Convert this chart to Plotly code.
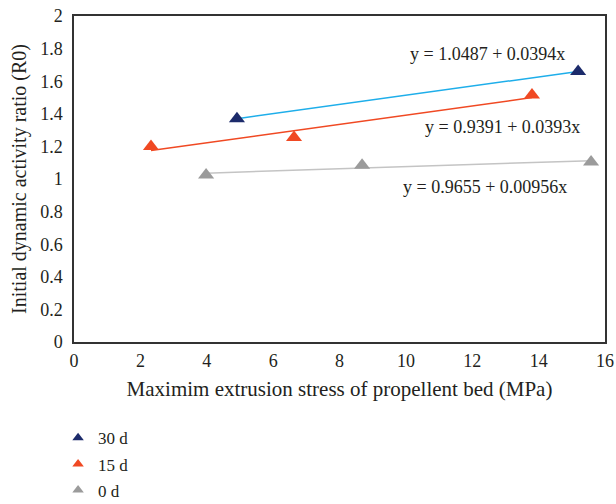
import numpy as np
import plotly.graph_objects as go

# ---- data ----
series_names = ["30 d", "15 d", "0 d"]
x_30d = [4.91, 15.19]
y_30d = [1.37, 1.66]
x_15d = [2.32, 6.63, 13.80]
y_15d = [1.20, 1.255, 1.515]
x_0d = [3.98, 8.68, 15.58]
y_0d = [1.025, 1.085, 1.105]
equations = ["y = 1.0487 + 0.0394x", "y = 0.9391 + 0.0393x", "y = 0.9655 + 0.00956x"]
eq_x = [12.47, 12.9, 12.38]
eq_y = [1.767, 1.319, 0.951]
x_ticks = list(range(0, 17, 2))
y_ticks = [round(0.2 * i, 1) for i in range(11)]

marker_colors = ["#1c2b6b", "#f04923", "#9b9b9b"]
line_colors = ["#1eaeea", "#f04923", "#c4c4c4"]
FONT = "Liberation Serif"
TXT = "#231f20"

xs = [x_30d, x_15d, x_0d]
ys = [y_30d, y_15d, y_0d]

fig = go.Figure()

# trendlines
for name, x, y, lc in zip(series_names, xs, ys, line_colors):
    k, b = np.polyfit(x, y, 1)
    xl = [min(x), max(x)]
    fig.add_trace(go.Scatter(x=xl, y=[b + k * v for v in xl], mode="lines",
                             line=dict(color=lc, width=1.5), showlegend=False,
                             hoverinfo="skip"))

# markers
for name, x, y, mc in zip(series_names, xs, ys, marker_colors):
    fig.add_trace(go.Scatter(x=x, y=y, mode="markers", name=name,
                             marker=dict(symbol="triangle-up", size=14, color=mc),
                             showlegend=False))

# legend-only entries (smaller symbols)
for i, (name, mc) in enumerate(zip(series_names, marker_colors)):
    fig.add_trace(go.Scatter(x=[None], y=[None], mode="markers", name=name,
                             legendgroup=f"g{i}",
                             marker=dict(symbol="triangle-up", size=10, color=mc)))

for t, ex, ey in zip(equations, eq_x, eq_y):
    fig.add_annotation(x=ex, y=ey, text=t, showarrow=False,
                       font=dict(family=FONT, size=18, color=TXT),
                       xanchor="center", yanchor="middle")

axis_common = dict(showgrid=False, zeroline=False, showline=True, mirror=True,
                   linecolor="#333333", linewidth=1.5, ticks="", automargin=False,
                   ticklabeloverflow="allow",
                   tickfont=dict(family=FONT, size=18, color=TXT))

fig.update_layout(
    template="none",
    width=616, height=504,
    margin=dict(l=74, r=11, t=16, b=162, autoexpand=False),
    plot_bgcolor="white", paper_bgcolor="white",
    font=dict(family=FONT, size=17, color=TXT),
    xaxis=dict(range=[0, 16], tickvals=x_ticks, ticklabelstandoff=2,
               title=dict(text="Maximim extrusion stress of propellent bed (MPa)",
                          font=dict(family=FONT, size=21, color=TXT), standoff=11),
               **axis_common),
    yaxis=dict(range=[0, 2], tickvals=y_ticks, ticklabelstandoff=6,
               title=dict(text="Initial dynamic activity ratio (R0)",
                          font=dict(family=FONT, size=20, color=TXT), standoff=8),
               **axis_common),
    legend=dict(x=-0.03, y=-0.24, xanchor="left", yanchor="top",
                traceorder="grouped", tracegroupgap=1,
                font=dict(family=FONT, size=17, color=TXT),
                bgcolor="rgba(0,0,0,0)", itemwidth=30),
    showlegend=True,
)

fig.write_html("out.html", config={"displayModeBar": False},
               post_script="document.body.style.margin='0';document.body.style.overflow='hidden';")
